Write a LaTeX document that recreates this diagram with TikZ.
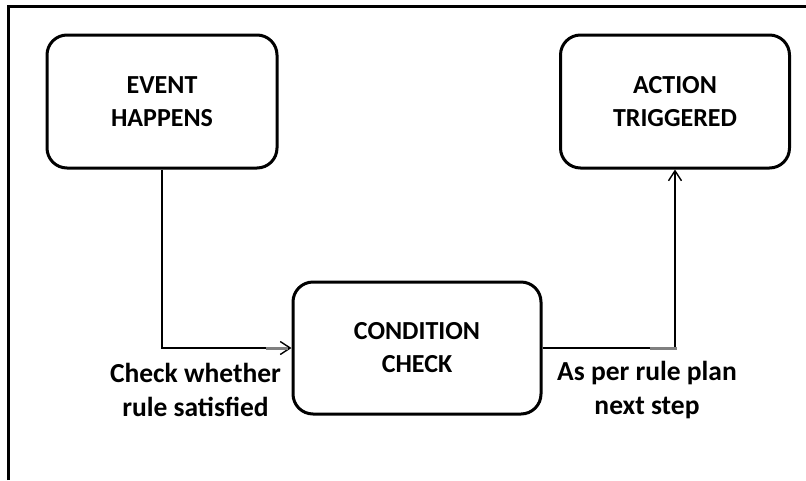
\documentclass[tikz,border=0pt]{standalone}
\usepackage{fontspec}
\setmainfont{Carlito}
\usetikzlibrary{arrows.meta}
\begin{document}
\begin{tikzpicture}[x=1pt,y=-1pt,
  box/.style={draw=black,line width=3pt,rounded corners=20pt,align=center,
    font=\fontsize{26}{33}\selectfont\bfseries,inner sep=0pt},
  conn/.style={draw=black,line width=1.6pt},
  tip/.style={-{Straight Barb[length=10pt,width=13pt,line width=1.4pt]}},
  lbl/.style={align=center,font=\fontsize{27.5}{34}\selectfont\bfseries,inner sep=0pt},
  stub/.style={draw=gray,line width=3pt}]
\useasboundingbox (0,0) rectangle (806,480);
\fill[white] (0,0) rectangle (806,480);
\draw[line width=3pt] (8.5,480) -- (8.5,6.5) -- (806,6.5);
\node[box,minimum width=230pt,minimum height=133pt] (event) at (162,101.5) {EVENT\\HAPPENS};
\node[box,minimum width=229pt,minimum height=133pt] (action) at (675,101.5) {ACTION\\TRIGGERED};
\node[box,minimum width=248pt,minimum height=132pt] (cond) at (417,348) {CONDITION\\CHECK};
\draw[conn,tip] (event.south) |- (cond.west);
\draw[conn,tip] (cond.east) -| (action.south);
\path (cond.west) ++(-26,0) coordinate (s1a) ++(22,0) coordinate (s1b);
\draw[stub] (s1a) -- (s1b);
\path (cond.east) ++(107,0) coordinate (s2a) ++(27,0) coordinate (s2b);
\draw[stub] (s2a) -- (s2b);
\node[lbl] (l1) at (195.5,390) {Check whether\\rule satisfied};
\node[lbl] (l2) at (647,390) {As per rule plan\\next step};
\end{tikzpicture}
\end{document}
